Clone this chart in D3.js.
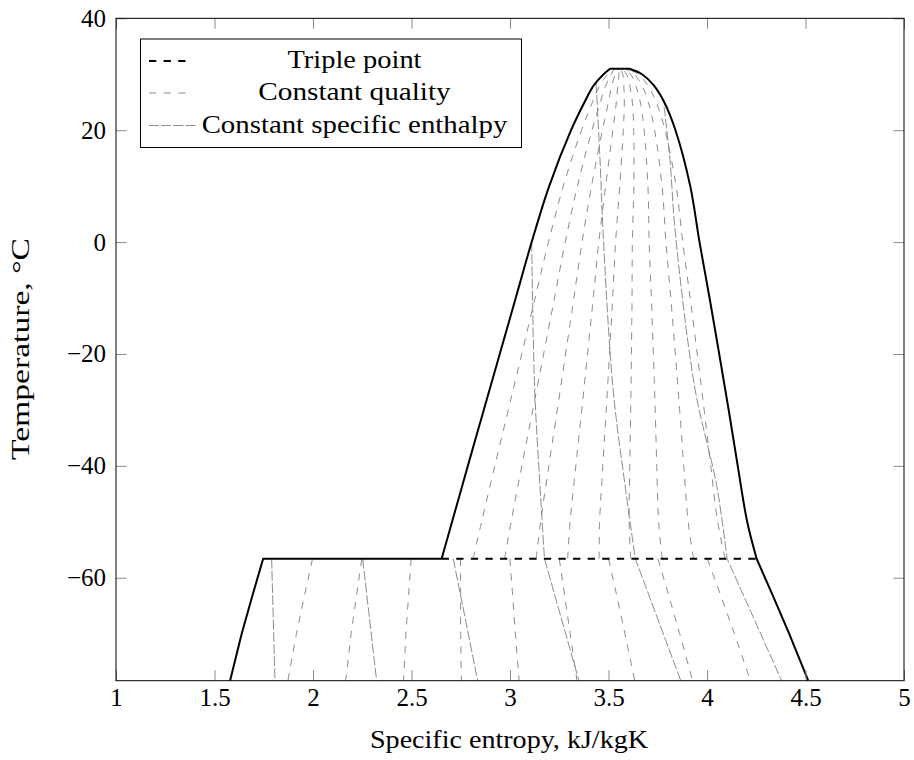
<!DOCTYPE html>
<html><head><meta charset="utf-8">
<script src="https://cdn.jsdelivr.net/npm/d3@7"></script>
<style>
html,body{margin:0;padding:0;background:#fff;}
svg text{font-family:"Liberation Serif","Times New Roman",serif;fill:#000;}
</style></head><body>
<svg id="chart" width="914" height="760"></svg>
<script>
// ---------- data (s in kJ/kgK, T in °C) ----------
const xTicks = [1, 1.5, 2, 2.5, 3, 3.5, 4, 4.5, 5];
const yTicks = [-60, -40, -20, 0, 20, 40];

// saturation dome (liquid / vapour) at common temperatures
const domeT   = [-56.6, -50, -40, -30, -20, -10, 0, 10, 20, 25, 28, 30, 30.98];
const sLiquid = [2.653, 2.706, 2.786, 2.867, 2.948, 3.029, 3.110, 3.199, 3.310, 3.378, 3.425, 3.475, 3.508];
const sVapour = [4.252, 4.204, 4.156, 4.110, 4.062, 4.013, 3.962, 3.915, 3.840, 3.783, 3.730, 3.670, 3.606];

// sublimation region (solid / vapour) below the triple point
const subT        = [-56.6, -63, -70, -78.4];
const sSolid      = [1.747, 1.694, 1.638, 1.579];
const sSubVapour  = [4.252, 4.332, 4.417, 4.514];

const tripleT = -56.6;
const qualities = [0.1, 0.2, 0.3, 0.4, 0.5, 0.6, 0.7, 0.8, 0.9];

// constant specific enthalpy lines: entropy and temperature pairs
const enthA_s = [1.790, 1.807],               enthA_T = [-56.6, -78.4];
const enthB_s = [2.252, 2.323],               enthB_T = [-56.6, -78.4];
const enthC_s = [2.712, 2.836],               enthC_T = [-56.6, -78.4];
const enthD_s = [3.110, 3.125, 3.152, 3.175, 3.350];
const enthD_T = [0, -26, -43.5, -56.6, -78.4];
const enthE_s = [3.437, 3.457, 3.472, 3.523, 3.584, 3.636, 3.867];
const enthE_T = [28.4, 14.7, 2.1, -26.2, -43.5, -56.6, -78.4];
const enthF_s = [3.782, 3.812, 3.838, 3.939, 4.049, 4.102, 4.379];
const enthF_T = [24.2, 14.7, 2.1, -26.2, -43.5, -56.6, -78.4];

const legendLabels = ["Triple point", "Constant quality", "Constant specific enthalpy"];
const xLabel = "Specific entropy, kJ/kgK";
const yLabel = "Temperature, °C";

// ---------- layout ----------
const svg = d3.select("#chart");
const X0 = 116, X1 = 904, Y0 = 18.3, Y1 = 680.7;
const x = d3.scaleLinear().domain([1, 5]).range([X0, X1]);
const y = d3.scaleLinear().domain([-78.4, 40]).range([Y1, Y0]);
const FS = 25;
const GREY = "#7f7f7f";
const QDASH = "7.3,7.3", HDASH = "9.8,2.4";

const zip = (a, b) => a.map((v, i) => [v, b[i]]);
const lineLin = d3.line().x(d => x(d[0])).y(d => y(d[1]));
const lineCR = d3.line().x(d => x(d[0])).y(d => y(d[1])).curve(d3.curveCatmullRom.alpha(0.5));
const join = (a, b) => a + "L" + b.slice(1);

// ---------- constant quality lines ----------
const gq = svg.append("g");
qualities.forEach(q => {
  const dome = domeT.map((t, i) => [sLiquid[i] + q * (sVapour[i] - sLiquid[i]), t]);
  gq.append("path").attr("d", lineCR(dome))
    .attr("fill", "none").attr("stroke", GREY).attr("stroke-width", 0.9).attr("stroke-dasharray", QDASH);
  const sub = subT.map((t, i) => [sSolid[i] + q * (sSubVapour[i] - sSolid[i]), t]);
  gq.append("path").attr("d", lineLin(sub))
    .attr("fill", "none").attr("stroke", GREY).attr("stroke-width", 0.9).attr("stroke-dasharray", QDASH);
});

// ---------- constant enthalpy lines ----------
const enth = [[enthA_s, enthA_T], [enthB_s, enthB_T], [enthC_s, enthC_T],
              [enthD_s, enthD_T], [enthE_s, enthE_T], [enthF_s, enthF_T]];
const gh = svg.append("g");
enth.forEach(([s, T]) => {
  const pts = zip(s, T);
  const k = T.indexOf(tripleT);
  const upper = pts.slice(0, k + 1), lower = pts.slice(k);
  const d = upper.length > 1 ? join(lineCR(upper), lineLin(lower)) : lineLin(lower);
  gh.append("path").attr("d", d)
    .attr("fill", "none").attr("stroke", GREY).attr("stroke-width", 0.9).attr("stroke-dasharray", HDASH);
});

// ---------- boundary ----------
const solidPts = zip(sSolid, subT).reverse();                 // bottom -> triple
const liqPts = zip(sLiquid, domeT);                           // triple -> critical
const vapPts = zip(sVapour, domeT).reverse();                 // critical -> triple
const subVapPts = zip(sSubVapour, subT);                      // triple -> bottom
let bd = lineLin(solidPts);
bd = join(bd, lineCR(liqPts));
bd = join(bd, lineCR(vapPts));
bd = join(bd, lineLin(subVapPts));
svg.append("path").attr("d", bd).attr("fill", "none").attr("stroke", "#000")
  .attr("stroke-width", 2).attr("stroke-linejoin", "round");

// triple point line (dashed part through the liquid-vapour region)
svg.append("line")
  .attr("x1", x(sLiquid[0])).attr("x2", x(sVapour[0]))
  .attr("y1", y(tripleT)).attr("y2", y(tripleT))
  .attr("stroke", "#000").attr("stroke-width", 2).attr("stroke-dasharray", QDASH);

// ---------- axes ----------
const TL = 10.5;
const styleAxis = g => {
  g.select(".domain").remove();
  g.selectAll(".tick line").attr("stroke", "#8a8a8a").attr("stroke-width", 1);
  g.selectAll("text").attr("font-size", FS).attr("font-family", '"Liberation Serif",serif').attr("fill", "#000");
};
svg.append("g").attr("transform", `translate(0,${Y1})`)
  .call(d3.axisBottom(x).tickValues(xTicks).tickSize(-TL).tickPadding(8).tickFormat(d => String(d)))
  .call(styleAxis);
svg.append("g").attr("transform", `translate(0,${Y0})`)
  .call(d3.axisTop(x).tickValues(xTicks).tickSize(-TL).tickFormat(""))
  .call(styleAxis);
svg.append("g").attr("transform", `translate(${X0},0)`)
  .call(d3.axisLeft(y).tickValues(yTicks).tickSize(-TL).tickPadding(10).tickFormat(d3.format("d")))
  .call(styleAxis);
svg.append("g").attr("transform", `translate(${X1},0)`)
  .call(d3.axisRight(y).tickValues(yTicks).tickSize(-TL).tickFormat(""))
  .call(styleAxis);

svg.append("rect").attr("x", X0).attr("y", Y0).attr("width", X1 - X0).attr("height", Y1 - Y0)
  .attr("fill", "none").attr("stroke", "#000").attr("stroke-width", 1);

// axis labels
svg.append("text").attr("x", 509).attr("y", 748).attr("text-anchor", "middle")
  .attr("font-size", FS).attr("textLength", 278).attr("lengthAdjust", "spacingAndGlyphs").text(xLabel);
svg.append("text").attr("transform", `translate(29,${349}) rotate(-90)`)
  .attr("text-anchor", "middle").attr("font-size", FS)
  .attr("textLength", 222).attr("lengthAdjust", "spacingAndGlyphs").text(yLabel);

// ---------- legend ----------
const lg = svg.append("g");
lg.append("rect").attr("x", 140.5).attr("y", 39).attr("width", 381).attr("height", 108.5)
  .attr("fill", "#fff").attr("stroke", "#000").attr("stroke-width", 1);
const rowY = [61, 93, 125.5];
const labelW = [134, 192.4, 305.7];
const sampleStyles = [
  {stroke: "#000", w: 2, dash: QDASH, len: 41},
  {stroke: GREY, w: 0.9, dash: QDASH, len: 41},
  {stroke: GREY, w: 0.9, dash: HDASH, len: 47}
];
legendLabels.forEach((lab, i) => {
  const st = sampleStyles[i];
  lg.append("line").attr("x1", 149).attr("x2", 149 + st.len).attr("y1", rowY[i]).attr("y2", rowY[i])
    .attr("stroke", st.stroke).attr("stroke-width", st.w).attr("stroke-dasharray", st.dash);
  lg.append("text").attr("x", 354.5).attr("y", rowY[i] + 7).attr("text-anchor", "middle")
    .attr("font-size", FS).attr("textLength", labelW[i]).attr("lengthAdjust", "spacingAndGlyphs").text(lab);
});
</script>
</body></html>
